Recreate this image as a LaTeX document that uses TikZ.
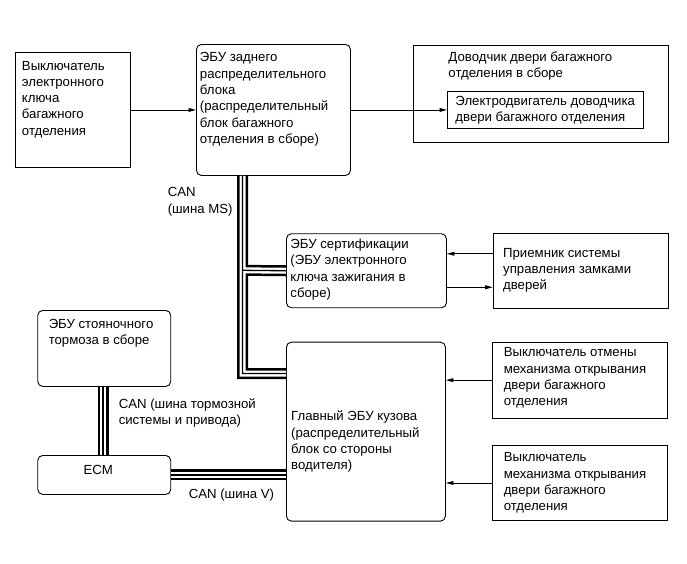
\documentclass[tikz,border=0pt]{standalone}
\usepackage{fontspec}
\setmainfont{Liberation Sans}
\usepackage{tikz}
\usetikzlibrary{arrows.meta}

\begin{document}
\begin{tikzpicture}[x=1pt, y=-1pt, line width=0.9pt,
    every node/.style={font=\fontsize{13.2}{16.3}\selectfont},
    box/.style={draw, inner sep=0pt, anchor=north west},
    rbox/.style={box, rounded corners=5pt},
    txt/.style={align=left, inner sep=0pt, anchor=north west},
    arr/.style={-{Triangle[length=7.5pt,width=3.8pt]}},
    bus/.style={draw=white, line width=6pt,
        preaction={draw=black, line width=11pt},
        postaction={draw=black, line width=1.3pt}}]
    \useasboundingbox (0,0) rectangle (687,563);

    % Boxes
    \node[box, minimum width=115pt, minimum height=115pt] (key) at (15,52) {};
    \node[rbox, minimum width=154pt, minimum height=131pt] (rj) at (196,44) {};
    \node[box, minimum width=255pt, minimum height=97pt] (closer) at (413,44.7) {};
    \node[box, minimum width=196pt, minimum height=37pt] (motor) at (447,91) {};
    \node[rbox, minimum width=160pt, minimum height=74pt] (cert) at (286,233.3) {};
    \node[box, minimum width=175pt, minimum height=75pt] (recv) at (492.7,233.3) {};
    \node[rbox, minimum width=133pt, minimum height=76pt] (pb) at (37.3,310) {};
    \node[rbox, minimum width=133pt, minimum height=39pt] (ecm) at (37.3,455) {};
    \node[rbox, minimum width=159pt, minimum height=179pt] (main) at (286,341.7) {};
    \node[box, minimum width=175pt, minimum height=76pt] (cancel) at (492.3,341.7) {};
    \node[box, minimum width=175pt, minimum height=75pt] (open) at (492.3,445) {};

    % Texts
    \node[txt] (key-t) at (21.5,60.5) {Выключатель\\электронного\\ключа\\багажного\\отделения};
    \node[txt] (rj-t) at (199.5,52.2) {ЭБУ заднего\\распределительного\\блока\\(распределительный\\блок багажного\\отделения в сборе)};
    \node[txt] (closer-t) at (448,51.2) {Доводчик двери багажного\\отделения в сборе};
    \node[txt] (motor-t) at (455,95.5) {Электродвигатель доводчика\\двери багажного отделения};
    \node[txt] (cert-t) at (290,238.5) {ЭБУ сертификации\\(ЭБУ электронного\\ключа зажигания в\\сборе)};
    \node[txt] (recv-t) at (502.7,247.5) {Приемник системы\\управления замками\\дверей};
    \node[txt] (pb-t) at (48.3,318.8) {ЭБУ стояночного\\тормоза в сборе};
    \node[anchor=base, inner sep=0pt] (ecm-t) at (98.3,474) {ECM};
    \node[txt] (main-t) at (290.7,410.5) {Главный ЭБУ кузова\\(распределительный\\блок со стороны\\водителя)};
    \node[txt] (cancel-t) at (503.3,347.2) {Выключатель отмены\\механизма открывания\\двери багажного\\отделения};
    \node[txt] (open-t) at (503.3,452.2) {Выключатель\\механизма открывания\\двери багажного\\отделения};

    % CAN buses
    \coordinate (msj) at (242.5,270.3);
    \coordinate (msb) at (242.5,373.5);
    \draw[bus] (rj.south -| msj) -- (msj) -- (cert.west)
        (msj) -- (msb) -- (msb -| main.west);
    \draw[bus] (pb.south -| 103,0) -- (ecm.north -| 103,0);
    \draw[bus] (ecm.east) -- (ecm.east -| main.west);
    \node[txt] (can-ms) at (167.3,187.2) {CAN\\(шина MS)};
    \node[txt] (can-br) at (118.3,398.2) {CAN (шина тормозной\\системы и привода)};
    \node[txt] (can-v) at (188.3,488.8) {CAN (шина V)};

    % Signal lines
    \draw[arr] (key.east) -- (rj.west);
    \draw[arr] (rj.east) -- (motor.west);
    \draw[arr] ([yshift=17.5pt]recv.west) -- ([yshift=17.5pt]recv.west -| cert.east);
    \draw[arr] ([yshift=-16pt]recv.west -| cert.east) -- ([yshift=-16pt]recv.west);
    \draw[arr] (cancel.west) -- (cancel.west -| main.east);
    \draw[arr] (open.west) -- (open.west -| main.east);
\end{tikzpicture}
\end{document}
